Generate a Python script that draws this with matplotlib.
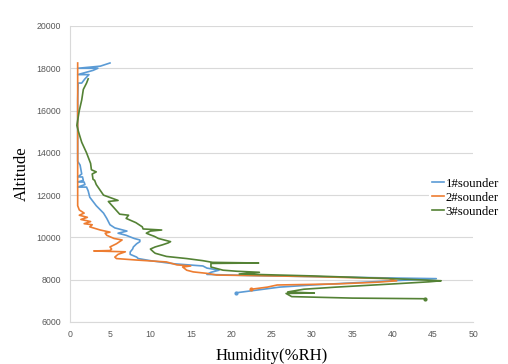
import matplotlib.pyplot as plt

# Sounding profiles: humidity (%RH) against altitude (m), in flight order
alt_1 = [7380, 7500, 7650, 7750, 7850, 7950, 8050, 8080, 8200, 8250, 8350, 8450, 8550,
         8650, 8750, 8900, 9000, 9070, 9200, 9310, 9450, 9550, 9700, 9800, 9880, 9950,
         10100, 10200, 10300, 10350, 10450, 10600, 10900, 11150, 11500, 11900, 12200,
         12380, 12380, 12500, 12620, 12620, 12700, 12860, 12860, 13000, 13420, 13600,
         15000, 16500, 17300, 17300, 17500, 17700, 17700, 17900, 18000, 18000, 18100,
         18250]
hum_1 = [20.6, 23.0, 26.0, 30.0, 35.0, 40.0, 45.4, 40.0, 22.0, 17.0, 17.5, 18.5, 17.0,
         16.5, 13.0, 10.0, 8.5, 8.3, 7.5, 7.5, 7.8, 7.9, 8.3, 8.7, 8.7, 8.0,
         7.0, 6.0, 7.1, 6.6, 5.6, 5.0, 4.6, 4.2, 3.3, 2.5, 2.3,
         2.1, 1.0, 1.9, 1.8, 1.0, 1.7, 1.6, 1.0, 1.5, 1.3, 1.0,
         1.0, 1.0, 1.05, 1.5, 1.9, 2.4, 1.0, 2.9, 3.5, 1.0, 3.8,
         5.0]

alt_2 = [7550, 7650, 7750, 7800, 7880, 7950, 8050, 8150, 8200, 8220, 8300, 8370, 8450,
         8600, 8650, 8700, 8840, 8930, 9000, 9070, 9200, 9320, 9360, 9380, 9450, 9550,
         9700, 9880, 9950, 10100, 10200, 10250, 10350, 10500, 10600, 10650, 10750,
         10850, 10950, 11050, 11150, 11300, 11500, 12000, 14000, 16000, 18250]
hum_2 = [22.5, 24.5, 25.7, 33.0, 38.0, 40.5, 39.5, 30.0, 22.0, 18.2, 17.0, 15.3, 14.5,
         14.0, 15.0, 13.3, 12.0, 8.3, 5.8, 5.6, 6.0, 6.9, 3.0, 5.0, 5.2, 5.0,
         5.8, 6.5, 5.5, 4.6, 4.4, 5.0, 3.8, 2.5, 2.8, 1.8, 2.6,
         1.4, 2.2, 1.2, 1.8, 1.2, 1.0, 1.0, 1.0, 1.0, 1.0]

alt_3 = [7100, 7130, 7200, 7350, 7370, 7420, 7550, 7650, 7800, 7900, 7950, 8050, 8180,
         8270, 8350, 8400, 8450, 8600, 8770, 8790, 8820, 8900, 9000,
         9100, 9250, 9310, 9450, 9550, 9650, 9740, 9800, 9870, 9950, 10050, 10120,
         10200, 10300, 10350, 10400, 10500, 10700, 10900, 11050, 11100, 11400, 11700,
         11750, 12000, 12500, 12700, 12750, 13000, 13100, 13200, 13500, 14000, 14500,
         15000, 15300, 16000, 16500, 17000, 17300, 17500]
hum_3 = [44.0, 35.0, 27.5, 26.8, 30.3, 27.0, 29.0, 33.0, 40.0, 44.5, 46.0, 40.0, 30.0,
         21.0, 23.5, 20.7, 19.0, 17.5, 17.5, 23.4, 17.7, 16.5, 14.5,
         12.0, 10.6, 10.4, 10.0, 10.6, 11.5, 12.2, 12.5, 11.8, 11.0, 10.5, 10.0,
         9.5, 10.0, 11.4, 9.1, 9.0, 8.2, 7.0, 7.3, 6.2, 5.5, 4.8,
         6.0, 4.2, 3.3, 3.1, 2.9, 2.8, 3.3, 2.7, 2.6, 2.1, 1.5,
         1.1, 0.9, 1.2, 1.5, 1.7, 2.1, 2.3]

series = [
    ('1#sounder', hum_1, alt_1, '#5B9BD5'),
    ('2#sounder', hum_2, alt_2, '#ED7D31'),
    ('3#sounder', hum_3, alt_3, '#548235'),
]

fig = plt.figure(figsize=(5.08, 3.64), dpi=100)
ax = fig.add_axes([0.137, 0.1154, 0.795, 0.8132])

for name, hum, alt, color in series:
    ax.plot(hum, alt, color=color, lw=1.2, label=name)
    # small dot at the launch point
    ax.plot(hum[:1], alt[:1], 'o', color=color, markersize=2)

ax.set_xlim(0, 50)
ax.set_ylim(6000, 20000)
ax.set_xticks(range(0, 51, 5))
ax.set_yticks(range(6000, 20001, 2000))
ax.grid(axis='y', color='#d9d9d9', lw=0.8)
ax.set_axisbelow(True)
for side in ['top', 'right']:
    ax.spines[side].set_visible(False)
for side in ['left', 'bottom']:
    ax.spines[side].set_color('#d9d9d9')
ax.tick_params(length=0, labelsize=6.3, labelcolor='#595959', pad=6)
for lab in ax.get_xticklabels() + ax.get_yticklabels():
    lab.set_family('Liberation Sans')

ax.set_xlabel('Humidity(%RH)', family='Liberation Serif', fontsize=12, labelpad=6)
ax.set_ylabel('Altitude', family='Liberation Serif', fontsize=12, labelpad=5)

leg = ax.legend(loc='center left', bbox_to_anchor=(0.89, 0.42), frameon=True,
                prop={'family': 'Liberation Serif', 'size': 9.2},
                handlelength=1.0, handletextpad=0.1, labelspacing=0.15,
                borderpad=0.2, borderaxespad=0)
leg.get_frame().set_edgecolor('none')
leg.get_frame().set_facecolor('white')
leg.get_frame().set_alpha(1)

fig.savefig('out.png', dpi=100)
